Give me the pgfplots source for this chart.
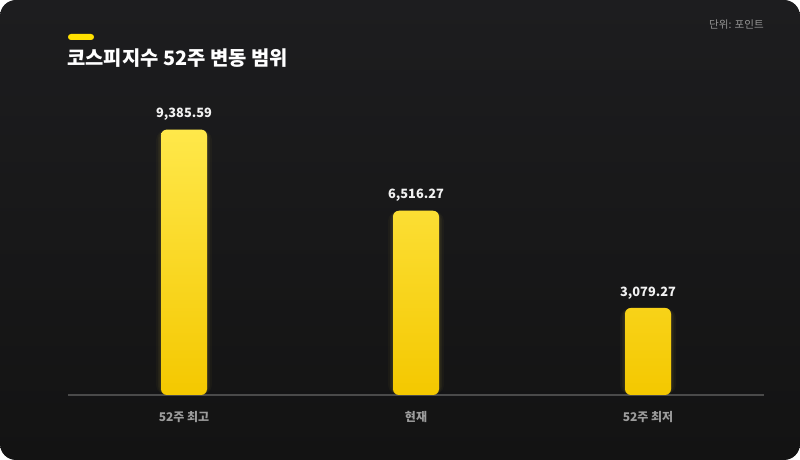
\documentclass[border=0pt]{standalone}
\usepackage{fontspec}
\setmainfont{Noto Sans CJK KR}
\usepackage{pgfplots}
\pgfplotsset{compat=1.18}
\definecolor{bgtop}{HTML}{1D1D1F}
\definecolor{bgbot}{HTML}{131313}
\definecolor{baryel}{HTML}{FFE84A}
\definecolor{barbot}{HTML}{F4C800}
\definecolor{pill}{HTML}{FFE000}
\definecolor{axisgray}{HTML}{4A4A4A}
\definecolor{ticktxt}{HTML}{9C9C9C}
\definecolor{unittxt}{HTML}{959595}
\definecolor{valtxt}{HTML}{F2F2F2}
\pgfplotstableread{
x y
0 9385.59
1 6516.27
2 3079.27
}\kospi
\begin{document}
\begin{tikzpicture}[x=0.75pt,y=0.75pt]
\fill[white] (0,0) rectangle (800,460);
\shade[rounded corners=12pt, top color=bgtop, bottom color=bgbot] (0,0) rectangle (800,460);
\fill[pill, rounded corners=2.2pt] (68,420) rectangle (94,426);
\node[anchor=west, inner sep=0pt, font=\bfseries\fontsize{14.9}{17}\selectfont, text=white] at (67,402) {코스피지수 52주 변동 범위};
\node[anchor=east, inner sep=0pt, font=\fontsize{7.9}{9}\selectfont, text=unittxt] at (764,435) {단위: 포인트};
\begin{axis}[
  at={(51pt,48.75pt)}, anchor=south west,
  scale only axis, width=522pt, height=212.1pt,
  xmin=-0.5, xmax=2.5, ymin=0, ymax=10000,
  hide y axis,
  axis x line*=bottom,
  axis line style={draw=axisgray, line width=0.9pt},
  xtick={0,1,2},
  xticklabels={52주 최고, 현재, 52주 최저},
  major tick length=0pt,
  xticklabel style={anchor=center, yshift=-16.5pt, font=\bfseries\fontsize{9}{11}\selectfont, text=ticktxt},
  clip=false,
]
\addplot[ybar, bar shift=0pt, bar width=42pt, draw=none, fill=baryel, fill opacity=0.03, rounded corners=8pt] table[x=x,y=y] {\kospi};
\addplot[ybar, bar shift=0pt, bar width=39pt, draw=none, fill=baryel, fill opacity=0.045, rounded corners=7pt] table[x=x,y=y] {\kospi};
\addplot[ybar, bar shift=0pt, bar width=36.5pt, draw=none, fill=baryel, fill opacity=0.07, rounded corners=6pt] table[x=x,y=y] {\kospi};
\addplot[ybar, bar shift=0pt, bar width=34.5pt, draw=none, shading=axis, top color=baryel, bottom color=barbot, rounded corners=4.5pt,
  nodes near coords={\pgfmathprintnumber[fixed,fixed zerofill,precision=2,1000 sep={,},assume math mode=true]{\pgfplotspointmeta}},
  every node near coord/.append style={anchor=center, yshift=11.25pt, font=\bfseries\fontsize{9.6}{11}\selectfont, text=valtxt}
] table[x=x,y=y] {\kospi};
\end{axis}
\end{tikzpicture}
\end{document}
